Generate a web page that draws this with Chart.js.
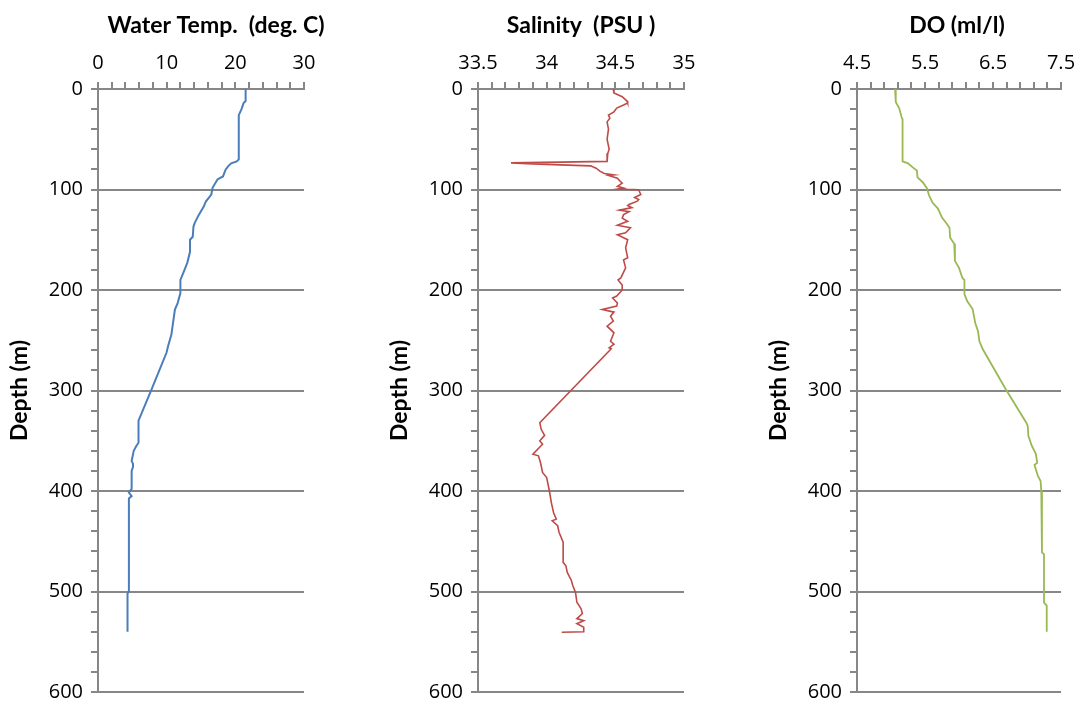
<!DOCTYPE html>
<html>
<head>
<meta charset="utf-8">
<title>Depth profiles</title>
<script src="https://cdn.jsdelivr.net/npm/chart.js@4.4.0/dist/chart.umd.min.js"></script>
<style>
    body { margin: 0; background: #fff; }
    #wrap { position: relative; width: 1082px; height: 708px; overflow: hidden; }
    canvas { position: absolute; top: 0; }
</style>
</head>
<body>
<div id="wrap">
    <canvas id="tempChart" width="432" height="708" style="left:0px"></canvas>
    <canvas id="salChart" width="402" height="708" style="left:380px"></canvas>
    <canvas id="doChart" width="396" height="708" style="left:759px"></canvas>
</div>
<script>
// tick labels (minor ticks split each major interval in 5)
const depthTicks = [0, 100, 200, 300, 400, 500, 600];
const tempTicks = [0, 10, 20, 30];
const salTicks = [33.5, 34, 34.5, 35];
const doTicks = [4.5, 5.5, 6.5, 7.5];
const minorPerMajor = 5;

// water temperature profile
const tempDepth = [0, 12, 14, 20, 26, 70, 72, 74, 76.5, 80, 87, 90, 98, 105, 112, 117, 125, 133, 137, 147,
    150, 162, 173, 180, 190, 203, 213, 219.5, 234, 244, 256, 262, 299, 330, 352, 355, 360, 367, 370, 373,
    376, 380, 398, 401.5, 405, 407.5, 500, 502, 540];
const tempValue = [21.5, 21.5, 21.2, 20.9, 20.5, 20.5, 20.2, 19.4, 19.0, 18.6, 18.2, 17.4, 16.7, 16.5, 15.7, 15.4, 14.7, 14.1, 13.9, 13.8,
    13.4, 13.4, 13.0, 12.6, 12.0, 12.0, 11.6, 11.2, 10.9, 10.7, 10.2, 10.0, 7.8, 5.9, 5.9, 5.6, 5.2, 5.0, 4.9, 5.1,
    5.1, 4.9, 4.9, 4.5, 4.9, 4.5, 4.5, 4.3, 4.3];

// salinity profile
const salDepth = [0, 4, 7.7, 12, 14, 16, 19, 22.7, 26, 29, 32.7, 40, 50, 60, 64, 70.5, 72, 73.5, 74.5, 75.5,
    76.5, 78.8, 82, 84, 85.4, 86, 88.7, 91, 93.6, 96.9, 98.6, 99.5, 100.3, 105, 108, 110, 111.6, 114.9, 116, 118,
    120.5, 122, 125, 128.5, 131.7, 135.6, 138, 143, 145, 150, 158, 168, 170, 178, 188, 190, 195, 200, 206, 208,
    213, 216, 219.4, 222, 226, 231, 236, 242.6, 251, 254, 257.5, 258.5, 332, 338.6, 344.6, 350, 353.5, 363.4, 365, 371.7,
    381.6, 386.6, 400, 411.5, 421.4, 428, 429.7, 434.6, 441, 451, 471, 474.4, 481, 489, 494, 501, 510.7, 517, 522, 527,
    529, 532, 535.6, 540, 540.6];
const salValue = [34.485, 34.49, 34.55, 34.585, 34.59, 34.56, 34.51, 34.49, 34.45, 34.46, 34.44, 34.45, 34.44, 34.455, 34.445, 34.44, 34.44, 33.74, 33.90, 34.10,
    34.32, 34.36, 34.39, 34.42, 34.49, 34.45, 34.515, 34.53, 34.55, 34.515, 34.56, 34.52, 34.67, 34.685, 34.64, 34.67, 34.66, 34.60, 34.59, 34.62,
    34.53, 34.60, 34.56, 34.55, 34.59, 34.515, 34.61, 34.575, 34.515, 34.59, 34.575, 34.59, 34.56, 34.575, 34.54, 34.52, 34.55, 34.55, 34.51, 34.48,
    34.515, 34.51, 34.405, 34.49, 34.465, 34.485, 34.44, 34.49, 34.465, 34.49, 34.455, 34.47, 33.95, 33.96, 33.985, 33.95, 33.97, 33.90, 33.94, 33.955,
    33.97, 34.00, 34.02, 34.034, 34.05, 34.07, 34.04, 34.08, 34.09, 34.12, 34.12, 34.14, 34.15, 34.18, 34.19, 34.21, 34.22, 34.25, 34.26, 34.22,
    34.27, 34.22, 34.27, 34.27, 34.11];

// dissolved oxygen profile
const doDepth = [0, 13, 19, 29, 30, 72, 74, 78, 81, 88, 93, 99, 106, 113, 119, 128, 134, 138, 148, 154,
    171, 178, 188, 190, 204, 211, 219, 233, 241, 251, 259, 299, 332, 335, 345, 355, 363, 372, 374, 385,
    390, 400, 461, 463, 511, 514, 540];
const doValue = [5.06, 5.07, 5.12, 5.16, 5.17, 5.17, 5.25, 5.32, 5.38, 5.39, 5.47, 5.53, 5.56, 5.61, 5.69, 5.75, 5.82, 5.86, 5.87, 5.93,
    5.94, 6.00, 6.05, 6.08, 6.08, 6.12, 6.20, 6.24, 6.28, 6.30, 6.35, 6.69, 6.99, 7.01, 7.02, 7.07, 7.13, 7.15, 7.11, 7.16,
    7.20, 7.21, 7.22, 7.25, 7.25, 7.29, 7.29];

const GRID = '#878787';
const TICK_FONT = { family: 'Open Sans', size: 20, lineHeight: 0.8 };
const TITLE_FONT = { family: 'Lato', size: 23, weight: 'bold', lineHeight: '22px' };

function withMinor(majors) {
    const out = [];
    for (let i = 0; i < majors.length - 1; i++) {
        const step = (majors[i + 1] - majors[i]) / minorPerMajor;
        for (let k = 0; k < minorPerMajor; k++) out.push(majors[i] + k * step);
    }
    out.push(majors[majors.length - 1]);
    return out;
}

function isMajor(majors, v) {
    return majors.some(m => Math.abs(m - v) < 1e-6);
}

function fixedTicks(majors) {
    return scale => { scale.ticks = withMinor(majors).map(v => ({ value: v })); };
}

function makeProfile(id, cfg) {
    const points = cfg.depth.map((d, i) => ({ x: cfg.value[i], y: d }));
    const xMajors = cfg.ticks;

    return new Chart(document.getElementById(id), {
        type: 'scatter',
        data: {
            datasets: [{
                data: points,
                showLine: true,
                borderColor: cfg.color,
                borderWidth: cfg.lineWidth,
                pointRadius: 0,
                tension: 0,
                xAxisID: 'x',
                yAxisID: 'y'
            }]
        },
        options: {
            responsive: false,
            animation: false,
            layout: { padding: { left: 0, right: 0, top: 0, bottom: 10 } },
            plugins: {
                legend: { display: false },
                tooltip: { enabled: false },
                title: {
                    display: true,
                    text: cfg.title,
                    color: '#000',
                    font: TITLE_FONT,
                    padding: { top: 15, bottom: 0 }
                }
            },
            scales: {
                x: {
                    type: 'linear',
                    position: 'top',
                    min: xMajors[0],
                    max: xMajors[xMajors.length - 1],
                    afterBuildTicks: fixedTicks(xMajors),
                    afterFit: s => { s.height = 52; },
                    ticks: {
                        autoSkip: false,
                        maxRotation: 0,
                        padding: 11,
                        color: '#000',
                        font: TICK_FONT,
                        callback: v => isMajor(xMajors, v) ? String(+v.toFixed(2)) : ''
                    },
                    grid: { drawOnChartArea: false, tickLength: 7, tickColor: GRID, lineWidth: 2 },
                    border: { color: GRID, width: 2 }
                },
                y: {
                    type: 'linear',
                    position: 'left',
                    reverse: true,
                    min: depthTicks[0],
                    max: depthTicks[depthTicks.length - 1],
                    afterBuildTicks: fixedTicks(depthTicks),
                    afterFit: s => { s.width = 98; },
                    title: {
                        display: true,
                        text: 'Depth (m)',
                        color: '#000',
                        font: TITLE_FONT,
                        padding: { top: 9, bottom: 0 }
                    },
                    ticks: {
                        autoSkip: false,
                        padding: 8,
                        color: '#000',
                        font: TICK_FONT,
                        callback: v => isMajor(depthTicks, v) ? String(v) : ''
                    },
                    grid: {
                        tickLength: 7,
                        lineWidth: 2,
                        tickColor: GRID,
                        color: ctx => (ctx.tick && isMajor(depthTicks, ctx.tick.value)) ? GRID : 'rgba(0,0,0,0)'
                    },
                    border: { color: GRID, width: 2 }
                },
                // empty right-hand box so the title centres where the original had it
                pad: {
                    type: 'linear',
                    position: 'right',
                    afterFit: s => { s.width = cfg.rightSpace; },
                    ticks: { display: false },
                    grid: { display: false, drawTicks: false },
                    border: { display: false }
                }
            }
        }
    });
}

makeProfile('tempChart', {
    title: 'Water Temp.  (deg. C)',
    depth: tempDepth, value: tempValue, ticks: tempTicks,
    color: '#4a7ebb', lineWidth: 2, rightSpace: 128
});
makeProfile('salChart', {
    title: 'Salinity  (PSU )',
    depth: salDepth, value: salValue, ticks: salTicks,
    color: '#be4b48', lineWidth: 1.6, rightSpace: 98
});
makeProfile('doChart', {
    title: 'DO (ml/l)',
    depth: doDepth, value: doValue, ticks: doTicks,
    color: '#98b954', lineWidth: 1.8, rightSpace: 94
});
</script>
</body>
</html>
